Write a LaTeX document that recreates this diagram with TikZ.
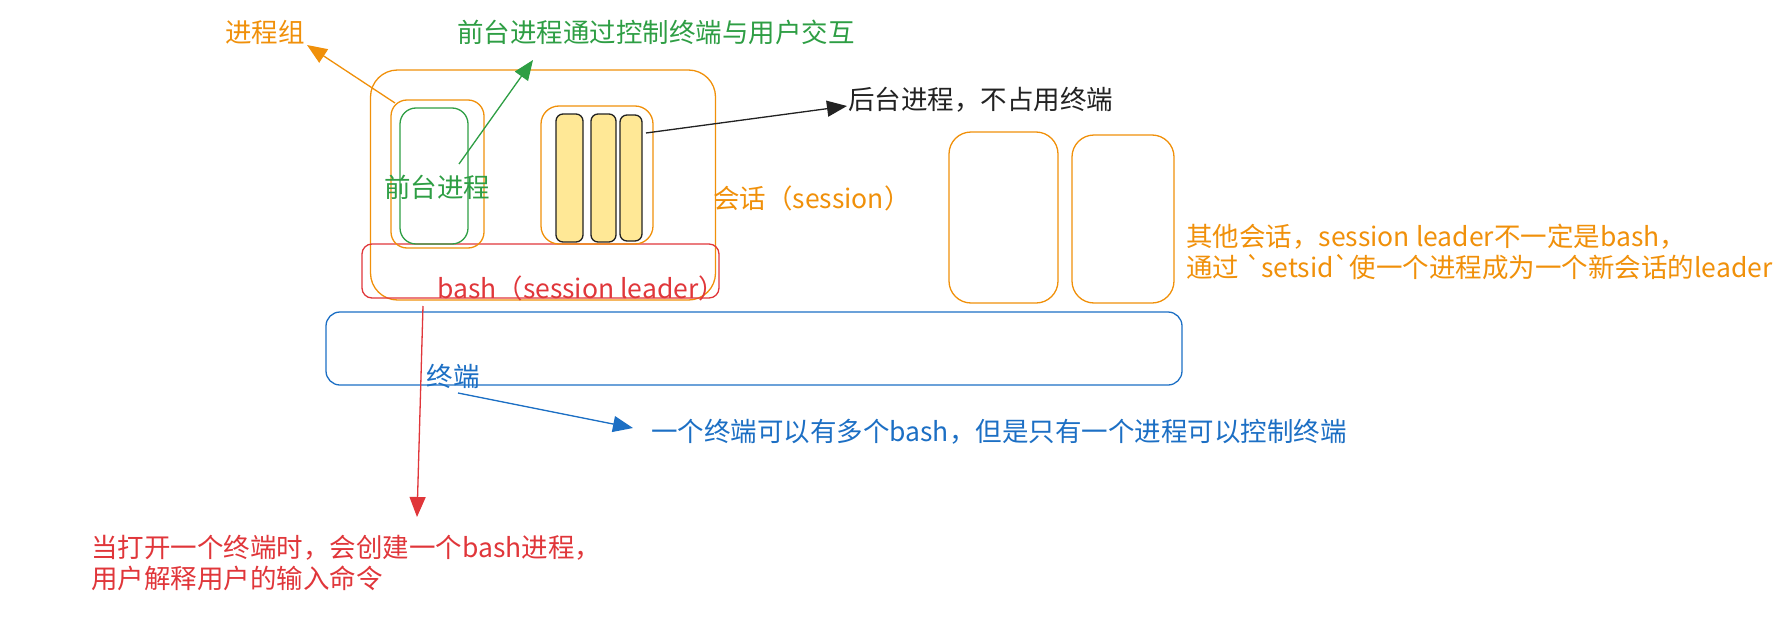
\documentclass[tikz,border=0pt]{standalone}
\usepackage{fontspec}
\setmainfont{Noto Sans CJK SC}[Ligatures=TeXOff]
\usetikzlibrary{arrows.meta}
\definecolor{cOrange}{HTML}{F0900A}
\definecolor{cGreen}{HTML}{2E9E44}
\definecolor{cRed}{HTML}{E0363A}
\definecolor{cBlue}{HTML}{1C6FC4}
\definecolor{cYellow}{HTML}{FFE896}
\definecolor{cDark}{HTML}{222222}
\tikzset{
  box/.style={draw, line width=1.3pt, inner sep=0pt},
  lbl/.style={inner sep=0pt, font=\fontsize{26.5}{31}\selectfont},
  arr/.style={line width=1.3pt, -{Triangle[length=20pt,width=16pt]}},
  bar/.style={box, draw=cDark, fill=cYellow, rounded corners=7pt, minimum height=128pt}
}
\begin{document}
\begin{tikzpicture}[x=1pt,y=-1pt]
\useasboundingbox (0,0) rectangle (1783,621);
% boxes
\node[box, draw=cOrange, rounded corners=27pt, minimum width=345pt, minimum height=230pt] (session) at (543,185) {};
\node[box, draw=cRed, rounded corners=10pt, minimum width=357pt, minimum height=54pt] (leader) at (540.5,271) {};
\node[box, draw=cOrange, rounded corners=16pt, minimum width=93pt, minimum height=148pt] (pgroup) at (437.5,174) {};
\node[box, draw=cGreen, rounded corners=16pt, minimum width=68pt, minimum height=136pt] (fg) at (434,176) {};
\node[box, draw=cOrange, rounded corners=18pt, minimum width=112pt, minimum height=138pt] (bggroup) at (597,175) {};
\node[bar, minimum width=27pt] (bar1) at (569.5,178) {};
\node[bar, minimum width=25pt] (bar2) at (603.5,178) {};
\node[bar, minimum width=22pt, minimum height=126pt] (bar3) at (631,178) {};
\node[box, draw=cBlue, rounded corners=14pt, minimum width=856pt, minimum height=73pt] (term) at (754,348.5) {};
\node[box, draw=cOrange, rounded corners=22pt, minimum width=109pt, minimum height=171pt] (other1) at (1003.5,217.5) {};
\node[box, draw=cOrange, rounded corners=22pt, minimum width=102pt, minimum height=168pt] (other2) at (1123,219) {};
% labels
\node[lbl, text=cOrange] (pgl) at (265,32) {进程组};
\node[lbl, text=cGreen] (fgtitle) at (656,32) {前台进程通过控制终端与用户交互};
\node[lbl, text=cGreen] (fgl) at (437,187) {前台进程};
\node[lbl, text=cDark, anchor=west] (bgl) at (848,100) {后台进程，不占用终端};
\node[lbl, text=cOrange, anchor=west] (sessl) at (713,198) {会话（session）};
\node[lbl, text=cRed, anchor=west] (leaderl) at (437,288) {bash（session leader）};
\node[lbl, text=cBlue] (terml) at (453,376) {终端};
\node[lbl, text=cBlue, anchor=west] (terml2) at (651,432) {一个终端可以有多个bash，但是只有一个进程可以控制终端};
\node[lbl, text=cOrange, anchor=west, align=left] (otherl) at (1186,251.5) {其他会话，session leader不一定是bash，\\通过 \char96 setsid\char96 使一个进程成为一个新会话的leader};
\node[lbl, text=cRed, anchor=west, align=left] (bashl) at (91,562.5) {当打开一个终端时，会创建一个bash进程，\\用户解释用户的输入命令};
% connector endpoints
\coordinate (pgA) at (395,103);
\coordinate (pgB) at (307,45);
\coordinate (fgA) at (459,164);
\coordinate (fgB) at (533,60);
\coordinate (bgA) at (646,133);
\coordinate (bgB) at (847,106);
\coordinate (rA) at (423,306);
\coordinate (rB) at (417,517);
\coordinate (tA) at (458,393);
\coordinate (tB) at (633,428);
% connectors
\draw[arr, draw=cOrange, fill=cOrange] (pgA) -- (pgB);
\draw[arr, draw=cGreen, fill=cGreen] (fgA) -- (fgB);
\draw[arr, draw=cDark, fill=cDark] (bgA) -- (bgB);
\draw[arr, draw=cRed, fill=cRed] (rA) -- (rB);
\draw[arr, draw=cBlue, fill=cBlue] (tA) -- (tB);
\end{tikzpicture}
\end{document}
